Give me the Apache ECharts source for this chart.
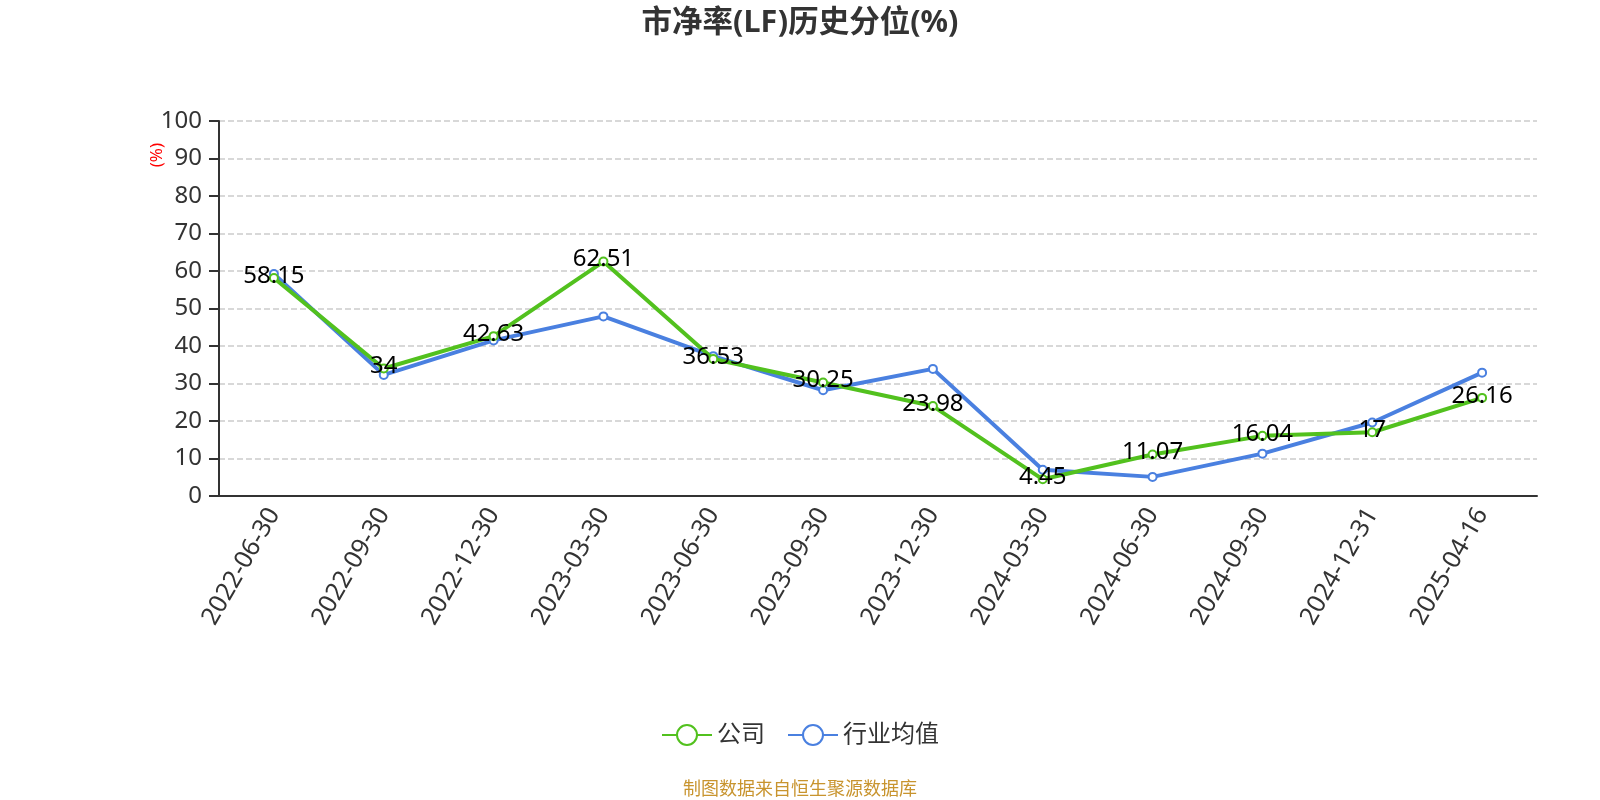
<!DOCTYPE html>
<html>
<head>
<meta charset="utf-8">
<script src="https://cdn.jsdelivr.net/npm/echarts@6/dist/echarts.min.js"></script>
<style>html,body{margin:0;padding:0;background:#fff}#c{width:1600px;height:800px}</style>
</head>
<body>
<div id="c"></div>
<script>
var categories = ['2022-06-30','2022-09-30','2022-12-30','2023-03-30','2023-06-30','2023-09-30','2023-12-30','2024-03-30','2024-06-30','2024-09-30','2024-12-31','2025-04-16'];
var companyValues = [58.15, 34, 42.63, 62.51, 36.53, 30.25, 23.98, 4.45, 11.07, 16.04, 17, 26.16];
var industryValues = [59.2, 32.3, 41.5, 47.9, 37.3, 28.2, 33.9, 7.0, 5.1, 11.3, 19.6, 32.9];
var yTicks = {min: 0, max: 100, interval: 10};

var FONT = '"Noto Sans", "Noto Sans CJK SC", sans-serif';
var chart = echarts.init(document.getElementById('c'));
chart.setOption({
  backgroundColor: '#fff',
  textStyle: {fontFamily: FONT},
  title: [
    {text: '市净率(LF)历史分位(%)', left: 'center', top: 3,
     textStyle: {fontSize: 30.5, fontWeight: 'bold', color: '#333', fontFamily: FONT}},
    {text: '制图数据来自恒生聚源数据库', left: 'center', top: 776,
     textStyle: {fontSize: 18, fontWeight: 'normal', color: '#c8942e', fontFamily: FONT}}
  ],
  graphic: [
    {type: 'text', left: 149, top: 143, rotation: Math.PI / 2,
     style: {text: '(%)', fill: '#ff0000', font: '17px ' + FONT}}
  ],
  legend: {
    bottom: 48, left: 'center', itemWidth: 50, itemHeight: 25, itemGap: 22,
    textStyle: {fontSize: 24, color: '#333', fontFamily: FONT},
    data: ['公司', '行业均值']
  },
  grid: {left: 219, right: 63, top: 121, bottom: 304, containLabel: false},
  xAxis: {
    type: 'category', data: categories, boundaryGap: true,
    axisLine: {lineStyle: {color: '#333', width: 2}},
    axisTick: {length: 10, lineStyle: {color: '#333', width: 2}},
    axisLabel: {rotate: 60, fontSize: 25, color: '#333', margin: 14, interval: 0, fontFamily: FONT}
  },
  yAxis: {
    type: 'value', min: yTicks.min, max: yTicks.max, interval: yTicks.interval,
    axisLine: {show: true, lineStyle: {color: '#333', width: 2}},
    axisTick: {show: true, length: 10, lineStyle: {color: '#333', width: 2}},
    axisLabel: {fontSize: 24, color: '#333', margin: 17, fontFamily: FONT},
    splitLine: {show: true, lineStyle: {color: '#ccc', type: 'dashed', width: 1.5}}
  },
  series: [
    {name: '公司', type: 'line', data: companyValues,
     symbol: 'emptyCircle', symbolSize: 8,
     itemStyle: {color: '#52c11e'}, lineStyle: {width: 4, color: '#52c11e'},
     label: {show: true, position: 'inside', offset: [0, -2], color: '#000', fontSize: 24, fontFamily: FONT},
     z: 3},
    {name: '行业均值', type: 'line', data: industryValues,
     symbol: 'emptyCircle', symbolSize: 8,
     itemStyle: {color: '#4a80e0'}, lineStyle: {width: 4, color: '#4a80e0'},
     z: 2}
  ]
});
</script>
</body>
</html>
